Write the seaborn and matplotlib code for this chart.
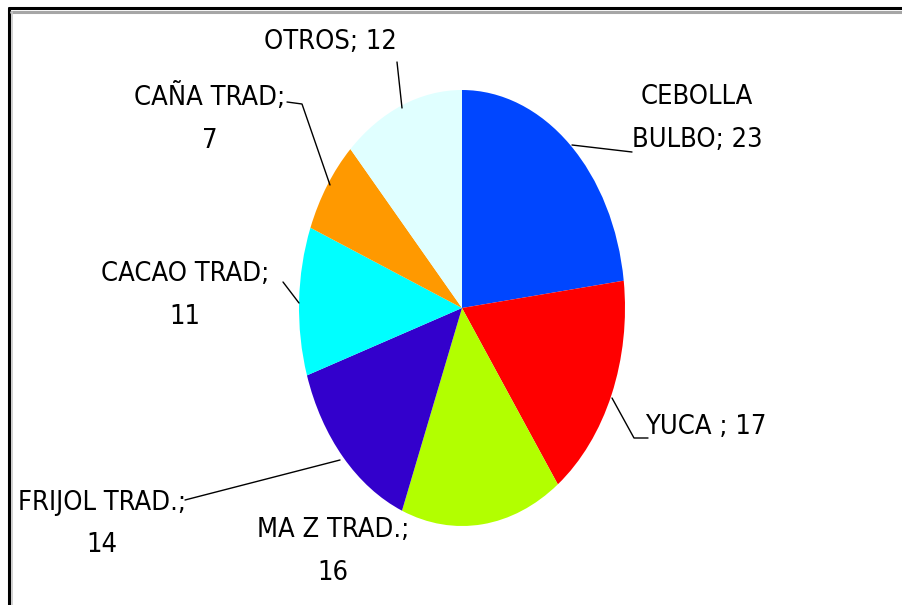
import matplotlib
matplotlib.use("Agg")
import matplotlib.pyplot as plt
import seaborn as sns
from matplotlib import font_manager
from matplotlib.lines import Line2D

# DATA
cultivos = ["CEBOLLA\nBULBO", "YUCA ", "MA Z TRAD.", "FRIJOL TRAD.", "CACAO TRAD", "CAÑA TRAD", "OTROS"]
valores = [23, 17, 16, 14, 11, 7, 12]
colores = ["#0046FF", "#FF0000", "#B2FF00", "#3300CC", "#00FFFF", "#FF9900", "#E0FFFF"]

sns.set_style("white")
plt.rcParams["font.family"] = ["DejaVu Sans"]

# narrow font if there is one
narrow = [f.name for f in font_manager.fontManager.ttflist
          if "Narrow" in f.name or "Condensed" in f.name or f.stretch in ("condensed", "semi-condensed")]
print(sorted(set(narrow)))

fig = plt.figure(figsize=(9.02, 6.05), dpi=100)

# pie axes (stretched -> ellipse like the original)
ax = fig.add_axes([299 / 902, 79 / 605, 326 / 902, 436 / 605])
ax.pie(valores, colors=colores, startangle=90, counterclock=False,
       wedgeprops=dict(linewidth=0))
ax.set_aspect("auto")
ax.set_xlim(-1, 1)
ax.set_ylim(-1, 1)
ax.axis("off")

# overlay in pixel coords for labels / leader lines
ov = fig.add_axes([0, 0, 1, 1], facecolor="none")
ov.set_xlim(0, 902)
ov.set_ylim(605, 0)
ov.axis("off")

# label placement (x, y of text center, leader line points)
etiquetas = [
    (697, 118, [(572, 145), (632, 152)]),
    (706, 427, [(612, 398), (634, 438), (648, 438)]),
    (333, 552, None),
    (102, 524, [(340, 460), (185, 500)]),
    (185, 296, [(283, 282), (299, 303)]),
    (210, 118, [(287, 102), (302, 104), (330, 185)]),
    (330, 42, [(397, 62), (402, 108)]),
]
for (nombre, v, (tx, ty, linea)) in zip(cultivos, valores, etiquetas):
    if nombre.startswith("CEBOLLA"):
        txt = "CEBOLLA\nBULBO; %d" % v
    elif nombre.startswith("OTROS") or nombre.startswith("YUCA"):
        txt = "%s; %d" % (nombre, v)
    else:
        txt = "%s;\n%d" % (nombre, v)
    ov.text(tx, ty, txt, ha="center", va="center", fontsize=19.5,
            fontstretch="condensed", linespacing=1.85, color="black")
    if linea:
        xs, ys = zip(*linea)
        ov.plot(xs, ys, color="black", lw=1)

# chart frame
fig.add_artist(Line2D([9 / 902, 1], [1 - 8 / 605, 1 - 8 / 605], color="black", lw=2.2))
fig.add_artist(Line2D([9 / 902, 9 / 902], [0, 1 - 8 / 605], color="black", lw=2.2))
fig.add_artist(Line2D([11 / 902, 1], [1 - 12 / 605, 1 - 12 / 605], color="#a6a6a6", lw=2.2))
fig.add_artist(Line2D([12 / 902, 12 / 902], [0, 1 - 12 / 605], color="#c8c8c8", lw=1.2))

fig.savefig("out.png", dpi=100)
